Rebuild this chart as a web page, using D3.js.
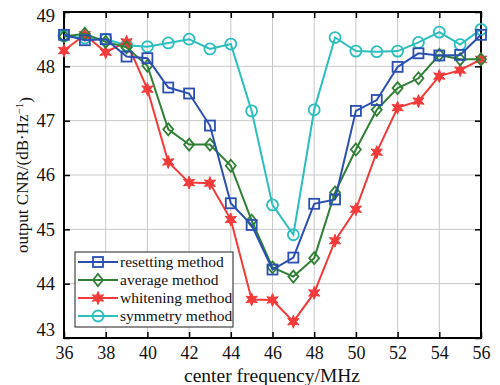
<!DOCTYPE html>
<html><head><meta charset="utf-8">
<script src="https://cdn.jsdelivr.net/npm/d3@7"></script>
<style>body{margin:0;background:#fff}svg{display:block}text{font-family:"Liberation Serif","Times New Roman",serif}</style>
</head><body>
<svg id="c" width="500" height="385"></svg>
<script>
const freq = [36,37,38,39,40,41,42,43,44,45,46,47,48,49,50,51,52,53,54,55,56];
const resetting = [48.58,48.48,48.5,48.18,48.15,47.61,47.5,46.91,45.48,45.08,44.26,44.48,45.47,45.55,47.18,47.38,47.99,48.24,48.2,48.21,48.58];
const average   = [48.55,48.6,48.45,48.35,48.01,46.84,46.56,46.56,46.17,45.16,44.3,44.13,44.47,45.68,46.47,47.2,47.6,47.78,48.21,48.13,48.13];
const whitening = [48.29,48.58,48.26,48.45,47.58,46.24,45.86,45.85,45.18,43.71,43.7,43.3,43.83,44.79,45.37,46.42,47.24,47.36,47.82,47.93,48.13];
const symmetry  = [48.56,48.52,48.5,48.39,48.36,48.43,48.5,48.32,48.41,47.18,45.45,44.9,47.2,48.53,48.28,48.27,48.28,48.44,48.63,48.4,48.68];
const seriesNames = ["resetting method","average method","whitening method","symmetry method"];
const xTicks = [36,38,40,42,44,46,48,50,52,54,56];
const yTicks = [43,44,45,46,47,48,49];

const svg = d3.select("#c");
const L=64,R=481,T=12,B=338;
const x = d3.scaleLinear().domain([36,56]).range([L,R]);
const y = d3.scaleLinear().domain([43,49]).range([B,T]);

// grid
const g = svg.append("g");
g.selectAll(".gx").data(xTicks).join("line").attr("x1",d=>x(d)).attr("x2",d=>x(d)).attr("y1",T).attr("y2",B).attr("stroke","#c8c8c8").attr("stroke-width",1);
g.selectAll(".gy").data(yTicks).join("line").attr("y1",d=>y(d)).attr("y2",d=>y(d)).attr("x1",L).attr("x2",R).attr("stroke","#c8c8c8").attr("stroke-width",1);

// axes
const fmt = d3.format("d");
const xa = svg.append("g").attr("transform",`translate(0,${B})`).call(d3.axisBottom(x).tickValues(xTicks).tickFormat(fmt).tickSizeInner(-6).tickSizeOuter(0).tickPadding(12));
const ya = svg.append("g").attr("transform",`translate(${L},0)`).call(d3.axisLeft(y).tickValues(yTicks).tickFormat(fmt).tickSizeInner(-6).tickSizeOuter(0).tickPadding(9));
const xt = svg.append("g").attr("transform",`translate(0,${T})`).call(d3.axisTop(x).tickValues(xTicks).tickSizeInner(-6).tickSizeOuter(0).tickFormat(""));
const yr = svg.append("g").attr("transform",`translate(${R},0)`).call(d3.axisRight(y).tickValues(yTicks).tickSizeInner(-6).tickSizeOuter(0).tickFormat(""));
[xa,ya,xt,yr].forEach(a=>{a.select(".domain").remove();a.selectAll("line").attr("stroke","#000").attr("stroke-width",1.5);a.selectAll("text").attr("font-size",18.5).attr("fill","#111").attr("font-family",'"Liberation Serif",serif');});
ya.selectAll(".tick").filter(d=>d===43).select("text").attr("dy","-0.15em");
ya.selectAll(".tick").filter(d=>d===49).select("text").attr("dy","0.5em");
xa.selectAll("text").attr("font-size",18).attr("dy","0.5em");
svg.append("rect").attr("x",L).attr("y",T).attr("width",R-L).attr("height",B-T).attr("fill","none").attr("stroke","#000").attr("stroke-width",2);

const colors = ["#2a4fb0","#2f8035","#f23a3a","#2cbdbd"];
const datas = [resetting,average,whitening,symmetry];
const line = d3.line().x((d,i)=>x(freq[i])).y(d=>y(d));

function marker(sel,k,cx,cy){
  const c=colors[k];
  if(k===0) sel.append("rect").attr("x",cx-5).attr("y",cy-5).attr("width",10).attr("height",10).attr("fill","none").attr("stroke",c).attr("stroke-width",1.8);
  else if(k===1) sel.append("path").attr("d",`M${cx},${cy-6}L${cx+5},${cy}L${cx},${cy+6}L${cx-5},${cy}Z`).attr("fill","none").attr("stroke",c).attr("stroke-width",1.8);
  else if(k===2){
    const pts=[];for(let j=0;j<12;j++){const a=-Math.PI/2+j*Math.PI/6;const r=j%2?3:6.5;pts.push([cx+r*Math.cos(a),cy+r*Math.sin(a)]);}
    sel.append("path").attr("d","M"+pts.map(p=>p.join(",")).join("L")+"Z").attr("fill",c).attr("stroke",c).attr("stroke-width",1);
  } else sel.append("circle").attr("cx",cx).attr("cy",cy).attr("r",5.5).attr("fill","none").attr("stroke",c).attr("stroke-width",1.8);
}

const order=[3,2,1,0];
order.forEach(k=>{
  const gs=svg.append("g");
  gs.append("path").datum(datas[k]).attr("d",line).attr("fill","none").attr("stroke",colors[k]).attr("stroke-width",2);
  datas[k].forEach((v,i)=>marker(gs,k,x(freq[i]),y(v)));
});

// legend
const lg=svg.append("g");
lg.append("rect").attr("x",75).attr("y",252).attr("width",158).attr("height",75).attr("fill","#fff").attr("stroke","#444").attr("stroke-width",1.2);
seriesNames.forEach((n,k)=>{
  const yy=262+k*18;
  lg.append("line").attr("x1",78).attr("x2",118).attr("y1",yy).attr("y2",yy).attr("stroke",colors[k]).attr("stroke-width",2);
  marker(lg,k,98,yy);
  lg.append("text").attr("x",120).attr("y",yy).attr("dy","0.33em").attr("font-size",15.5).attr("fill","#111").text(n);
});

// titles
svg.append("text").attr("x",272).attr("y",382).attr("text-anchor","middle").attr("font-size",19.5).attr("fill","#111").text("center frequency/MHz");
const yt=svg.append("text").attr("transform",`translate(28,${(T+B)/2}) rotate(-90)`).attr("text-anchor","middle").attr("font-size",17).attr("fill","#111");
yt.append("tspan").text("output CNR/(dB·Hz");
yt.append("tspan").attr("dy","-0.45em").attr("font-size",11).text("−1");
yt.append("tspan").attr("dy","0.45em").text(")");
</script>
</body></html>
